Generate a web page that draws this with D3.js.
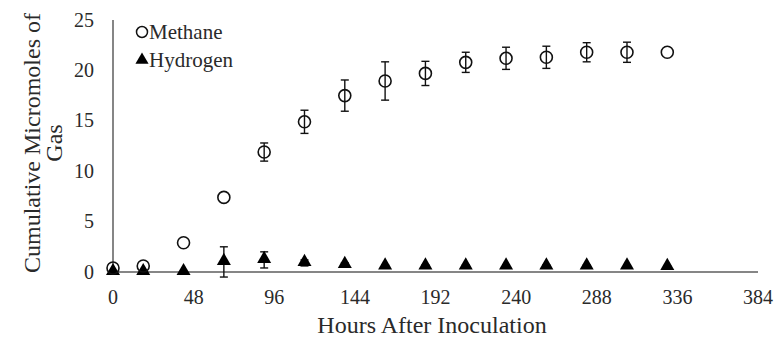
<!doctype html>
<html><head><meta charset="utf-8"><script src="https://d3js.org/d3.v7.min.js"></script></head>
<body style="margin:0">
<script>
    // data
    var hours = [0, 18, 42, 66, 90, 114, 138, 162, 186, 210, 234, 258, 282, 306, 330];
    var methane = [0.4, 0.6, 2.9, 7.4, 11.9, 14.9, 17.5, 18.95, 19.7, 20.8, 21.2, 21.3, 21.8, 21.8, 21.8];
    var methaneErr = [0, 0, 0, 0, 0.9, 1.15, 1.55, 1.9, 1.2, 1.0, 1.1, 1.1, 0.95, 1.0, 0];
    var hydrogen = [0, 0, 0, 1.0, 1.2, 0.9, 0.7, 0.55, 0.55, 0.55, 0.55, 0.55, 0.55, 0.55, 0.5];
    var hydrogenErr = [0, 0, 0, 1.5, 0.8, 0.3, 0.2, 0.15, 0.15, 0.15, 0.15, 0.15, 0.15, 0.15, 0.1];
    var xTicks = [0, 48, 96, 144, 192, 240, 288, 336, 384];
    var yTicks = [0, 5, 10, 15, 20, 25];

    var width = 777, height = 339;
    var font = "'Liberation Serif'";
    var textColor = "#2a2a2a";

    var svg = d3.select("body").append("svg").attr("width", width).attr("height", height);

    var x = d3.scaleLinear().domain([0, 384]).range([113, 758]);
    var y = d3.scaleLinear().domain([0, 25]).range([272, 20]);

    var axisColor = "#868686";

    // axis lines
    svg.append("line")
      .attr("x1", x(0)).attr("x2", x(0))
      .attr("y1", y(25)).attr("y2", y(0))
      .attr("stroke", axisColor).attr("stroke-width", 2);
    svg.append("line")
      .attr("x1", x(0)).attr("x2", x(384))
      .attr("y1", y(0)).attr("y2", y(0))
      .attr("stroke", axisColor).attr("stroke-width", 2);

    svg.selectAll("text.ytick")
      .data(yTicks)
      .enter()
      .append("text")
      .attr("class", "ytick")
      .style("font-family", font)
      .style("font-size", "20px")
      .attr("fill", textColor)
      .attr("x", 94)
      .attr("y", function(d) { return y(d) + 6.5; })
      .attr("text-anchor", "end")
      .text(function(d) { return d; });

    svg.selectAll("text.xtick")
      .data(xTicks)
      .enter()
      .append("text")
      .attr("class", "xtick")
      .style("font-family", font)
      .style("font-size", "20px")
      .attr("fill", textColor)
      .attr("x", function(d) { return x(d); })
      .attr("y", 304)
      .attr("text-anchor", "middle")
      .text(function(d) { return d; });

    svg.append("text")
      .style("font-family", font)
      .style("font-size", "24px")
      .attr("fill", textColor)
      .attr("x", 432)
      .attr("y", 333)
      .attr("text-anchor", "middle")
      .text("Hours After Inoculation");

    var yTitle = svg.append("text")
      .style("font-family", font)
      .style("font-size", "24px")
      .attr("fill", textColor)
      .attr("text-anchor", "middle")
      .attr("transform", "translate(40,143)rotate(-90)");
    yTitle.append("tspan").attr("x", 0).attr("y", 0).text("Cumulative Micromoles of");
    yTitle.append("tspan").attr("x", 0).attr("y", 22).text("Gas");

    function errorBars(vals, errs) {
      var g = svg.append("g").attr("stroke", "#111").attr("stroke-width", 1.4);
      hours.forEach(function(h, i) {
        if (!errs[i]) return;
        var cx = x(h), top = y(vals[i] + errs[i]), bot = y(vals[i] - errs[i]);
        g.append("line").attr("x1", cx).attr("x2", cx).attr("y1", top).attr("y2", bot);
        g.append("line").attr("x1", cx - 4).attr("x2", cx + 4).attr("y1", top).attr("y2", top);
        g.append("line").attr("x1", cx - 4).attr("x2", cx + 4).attr("y1", bot).attr("y2", bot);
      });
    }

    errorBars(hydrogen, hydrogenErr);
    errorBars(methane, methaneErr);

    var tri = d3.symbol().type(d3.symbolTriangle).size(85);

    svg.selectAll("path.h2")
      .data(hours)
      .enter()
      .append("path")
      .attr("class", "h2")
      .attr("d", tri)
      .attr("fill", "#000")
      .attr("transform", function(d, i) {
        return "translate(" + x(d) + "," + (y(hydrogen[i]) - 1) + ")";
      });

    svg.selectAll("circle.ch4")
      .data(hours)
      .enter()
      .append("circle")
      .attr("class", "ch4")
      .attr("cx", function(d) { return x(d); })
      .attr("cy", function(d, i) { return y(methane[i]); })
      .attr("r", 6)
      .attr("fill", "none")
      .attr("stroke", "#111")
      .attr("stroke-width", 1.6);

    // legend
    svg.append("circle")
      .attr("cx", 142).attr("cy", 32).attr("r", 5.5)
      .attr("fill", "none").attr("stroke", "#111").attr("stroke-width", 1.5);
    svg.append("text")
      .style("font-family", font).style("font-size", "21px").attr("fill", textColor)
      .attr("x", 149).attr("y", 39).text("Methane");
    svg.append("path")
      .attr("d", d3.symbol().type(d3.symbolTriangle).size(75))
      .attr("fill", "#000")
      .attr("transform", "translate(142,60)");
    svg.append("text")
      .style("font-family", font).style("font-size", "21px").attr("fill", textColor)
      .attr("x", 149).attr("y", 67).text("Hydrogen");
</script></body></html>
